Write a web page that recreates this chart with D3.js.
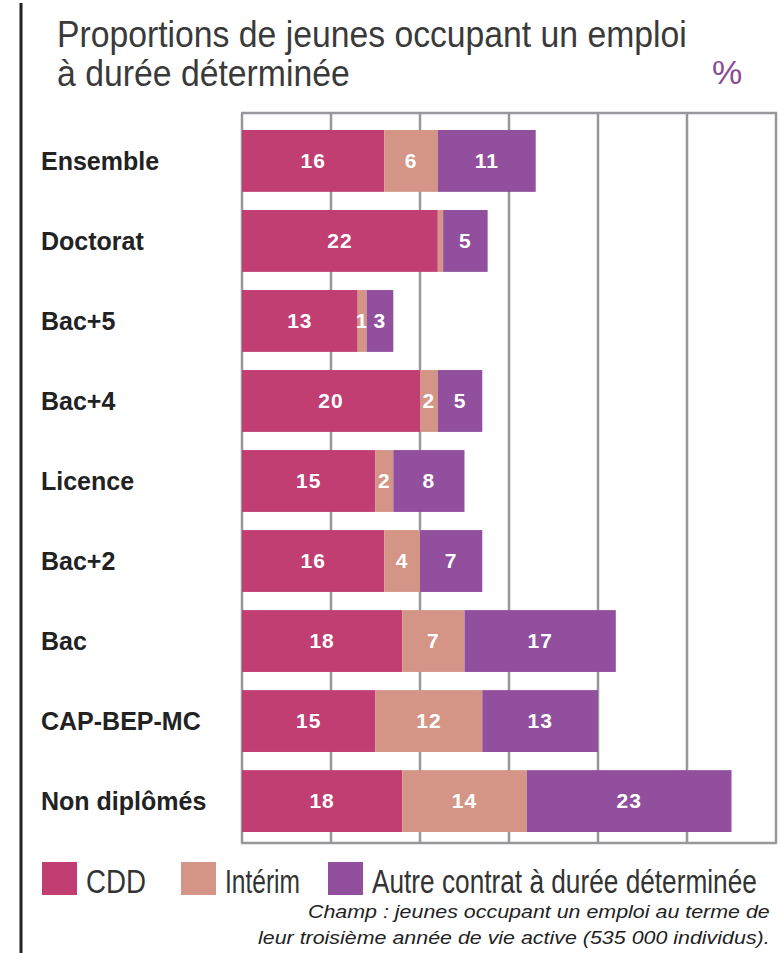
<!DOCTYPE html>
<html><head><meta charset="utf-8">
<script src="https://cdn.jsdelivr.net/npm/d3@7"></script>
<style>body{margin:0;background:#fff}svg{display:block}</style>
</head><body>
<script>
const categories = ["Ensemble","Doctorat","Bac+5","Bac+4","Licence","Bac+2","Bac","CAP-BEP-MC","Non diplômés"];
const seriesNames = ["CDD","Intérim","Autre contrat à durée déterminée"];
const cdd     = [16,22,13,20,15,16,18,15,18];
const interim = [6,0.6,1,2,2,4,7,12,14];
const autre   = [11,5,3,5,8,7,17,13,23];
const xTicks  = [0,10,20,30,40,50,60];
const titleLines = ["Proportions de jeunes occupant un emploi","à durée déterminée"];
const unitLabel = "%";
const noteLines = ["Champ : jeunes occupant un emploi au terme de","leur troisième année de vie active (535 000 individus)."];
const colors = ["#c03e72","#d49586","#914f9e"];

const W = 781, H = 953;
const svg = d3.select("body").append("svg").attr("width",W).attr("height",H);
svg.append("rect").attr("width",W).attr("height",H).attr("fill","#fff");

// left rule
svg.append("line").attr("x1",21).attr("x2",21).attr("y1",3).attr("y2",H).attr("stroke","#222").attr("stroke-width",3);

function fit(t, w){
  const n = t.node(); const m = n.getComputedTextLength();
  const x = +t.attr("x"), y = +t.attr("y");
  const anchor = t.attr("text-anchor") || "start";
  const s = w/m;
  const ox = x;
  t.attr("transform",`translate(${ox},${y}) scale(${s},1) translate(${-ox},${-y})`);
}

const titleFont = "'Liberation Sans', Arial, sans-serif";
const t1 = svg.append("text").attr("x",57).attr("y",47).attr("font-family",titleFont).attr("font-size",37).attr("fill","#3a3a3a").text(titleLines[0]);
fit(t1,630);
const t2 = svg.append("text").attr("x",57).attr("y",86).attr("font-family",titleFont).attr("font-size",37).attr("fill","#3a3a3a").text(titleLines[1]);
fit(t2,293);
svg.append("text").attr("x",712).attr("y",84).attr("font-family",titleFont).attr("font-size",34).attr("fill","#8c4a98").text(unitLabel);

const x = d3.scaleLinear().domain([0,60]).range([242,776]);
const y = d3.scaleBand().domain(categories).range([120,842]).paddingInner(0.227).paddingOuter(0.125);

// grid
const grid = svg.append("g");
grid.selectAll("line.v").data(xTicks).join("line").attr("class","v")
  .attr("x1",d=>x(d)).attr("x2",d=>x(d)).attr("y1",113).attr("y2",843)
  .attr("stroke","#98989c").attr("stroke-width",2.5);
[113,843].forEach(yy=>grid.append("line").attr("x1",x(0)-1).attr("x2",x(60)+1).attr("y1",yy).attr("y2",yy).attr("stroke","#98989c").attr("stroke-width",2.5));

// stacked bars
const rows = categories.map((c,i)=>({cat:c, CDD:cdd[i], "Intérim":interim[i], "Autre contrat à durée déterminée":autre[i]}));
const stack = d3.stack().keys(seriesNames)(rows);
const gBars = svg.append("g");
stack.forEach((layer,li)=>{
  gBars.selectAll(null).data(layer).join("rect")
    .attr("x",d=>x(d[0])).attr("width",d=>x(d[1])-x(d[0]))
    .attr("y",d=>y(d.data.cat)).attr("height",y.bandwidth())
    .attr("fill",colors[li]);
  gBars.selectAll(null).data(layer.filter(d=>d[1]-d[0]>=1)).join("text")
    .attr("x",d=>(x(d[0])+x(d[1]))/2).attr("y",d=>y(d.data.cat)+y.bandwidth()/2+7)
    .attr("text-anchor","middle").attr("font-family","'Liberation Sans', Arial, sans-serif")
    .attr("font-weight","bold").attr("font-size",21).attr("fill","#fff").attr("letter-spacing",1)
    .text(d=>Math.round(d[1]-d[0]));
});

// category labels
svg.append("g").selectAll("text").data(categories).join("text")
  .attr("x",41).attr("y",d=>y(d)+y.bandwidth()/2+9)
  .attr("font-family","'Liberation Sans', Arial, sans-serif").attr("font-weight","bold")
  .attr("font-size",25).attr("fill","#222").text(d=>d);

// legend
const legX = [42,181,328], legW = [60,75,385];
seriesNames.forEach((s,i)=>{
  svg.append("rect").attr("x",legX[i]).attr("y",862).attr("width",35).attr("height",33).attr("fill",colors[i]);
  const t = svg.append("text").attr("x",legX[i]+44).attr("y",893).attr("font-family",titleFont)
    .attr("font-size",33).attr("fill","#333").text(s);
  fit(t,legW[i]);
});

// note
noteLines.forEach((l,i)=>{
  const t = svg.append("text").attr("x",0).attr("y",918+i*26).attr("font-family",titleFont)
    .attr("font-style","italic").attr("font-size",19).attr("fill","#222").text(l);
  const w = [462,512][i];
  const m = t.node().getComputedTextLength();
  const s = w/m;
  t.attr("x",770-w).attr("transform",`translate(${770-w},${918+i*26}) scale(${s},1) translate(${-(770-w)},${-(918+i*26)})`);
});
</script>
</body></html>
